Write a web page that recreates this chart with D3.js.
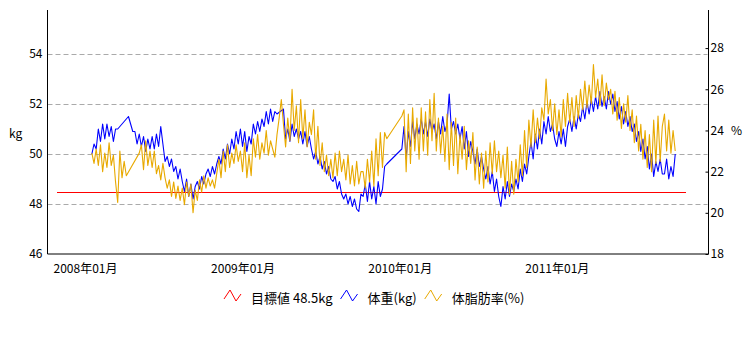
<!DOCTYPE html>
<html>
<head>
<meta charset="utf-8">
<script src="https://cdn.jsdelivr.net/npm/d3@7"></script>
<style>
  html, body { margin: 0; padding: 0; background: #fff; }
  svg { display: block; }
  text { font-family: "Noto Sans CJK JP", "DejaVu Sans", sans-serif; font-size: 12px; fill: #000; }
</style>
</head>
<body>
<svg id="chart" width="750" height="350"></svg>
<script>
// ---- data ----
const startDate = "2008-03-22";
const stepDays = 5;

const weight = [
  50.0, 50.4, 50.2, 51.0, 50.5, 51.2, 50.6, 51.2, 50.7, 51.1, 50.5, 51.0, 51.0, null,
  null, null, null, 51.5, 51.2, 50.9, 50.9, 50.4, 50.8, 50.3, 50.7, 50.1, 50.6, 50.2,
  50.7, 50.2, 50.8, 50.3, 51.1, 50.4, 49.7, 49.9, 49.5, 49.8, 49.3, 49.5, 49.0, 49.4,
  48.9, 48.5, 49.0, 48.3, 48.8, 48.2, 48.7, 48.9, 48.6, 49.1, 48.8, 49.2, 49.4, 49.1,
  49.5, 49.2, 49.6, 49.9, 49.6, 50.2, 49.8, 50.4, 50.0, 50.6, 50.2, 50.9, 50.4, 51.0,
  50.3, 50.9, 50.1, 50.7, 50.4, 51.2, 50.8, 51.3, 50.9, 51.4, 51.1, 51.7, 51.2, 51.8,
  51.3, 51.7, 51.6, null, null, 51.8, 50.6, 51.0, 50.5, 51.2, 50.7, 51.0, 50.6, 50.9,
  50.4, 50.9, 50.3, 50.7, 50.2, 49.8, 50.1, 49.6, 49.9, 49.4, 49.7, 49.2, 49.5, 49.0,
  48.9, 49.1, 48.6, 48.9, 48.4, 48.2, 48.4, 48.0, 48.3, 47.9, 48.2, 47.8, 47.7, 48.4,
  48.3, 48.8, 48.1, 48.9, 48.2, 48.7, 48.0, 48.9, 48.3, 48.6, 49.5, 49.6, null, null,
  null, null, null, null, 50.2, 51.1, 49.8, 50.9, 50.3, 51.3, 50.6, 51.2, 50.8, 51.4,
  50.8, 51.3, 50.7, 51.4, 50.9, 51.2, 50.6, 51.3, 50.8, 51.5, 50.9, 51.2, 52.4, 51.0,
  51.3, 50.8, 51.2, 50.6, 51.1, 50.2, 50.9, 49.9, 50.5, 50.1, 49.6, 50.2, 49.5, 49.9,
  49.4, 49.0, 49.5, 48.8, 49.3, 48.5, 49.0, 48.3, 47.9, 48.7, 48.2, 48.9, 48.3, 48.8,
  48.5, 49.0, 48.6, 49.4, 48.9, 49.6, 49.2, 49.9, 50.5, 49.8, 50.8, 50.2, 51.0, 50.4,
  51.3, 50.8, 51.5, 50.9, 51.2, 50.6, 50.3, 50.9, 50.4, 51.0, 50.3, 51.1, 51.4, 50.9,
  51.5, 51.0, 51.6, 51.3, 51.9, 51.4, 52.1, 51.6, 52.2, 51.7, 52.3, 51.8, 52.5, 51.9,
  52.3, 51.8, 52.5, 52.0, 52.4, 51.7, 52.1, 51.4, 51.9, 51.2, 51.7, 51.1, 51.5, 50.9,
  51.2, 50.5, 50.9, 50.1, 50.6, 49.8, 50.3, 49.4, 50.0, 49.1, 49.7, 49.3, 49.8, 49.2,
  49.2, 49.8, 49.0, 49.5, 49.1, 50.0
];

const bodyFat = [
  22.9, 22.4, 23.1, 22.3, 23.3, 22.0, 22.9, 22.2, 23.4, 22.3, 22.8, 21.5, 20.5, 23.0,
  21.7, 22.5, 21.8, null, null, null, null, null, 22.9, 23.3, 22.1, 23.5, 22.3, 23.0,
  22.2, 23.0, 21.9, 22.3, 21.6, 22.4, 21.7, 21.2, 21.6, 20.8, 21.5, 20.7, 21.3, 20.6,
  21.2, 20.4, 21.5, 20.8, 21.4, 20.0, 21.1, 20.6, 21.6, 21.0, 21.8, 21.2, 21.7, 21.3,
  21.6, 21.2, 21.9, 22.6, 21.7, 23.0, 22.0, 23.3, 22.2, 22.9, 22.4, 23.3, 22.5, 23.0,
  22.0, 23.4, 21.7, 22.8, 21.8, 23.6, 22.7, 23.8, 22.6, 23.4, 22.9, 24.0, 22.8, 23.5,
  23.1, 22.7, 23.8, 24.6, 25.5, 24.3, 23.2, 24.6, 23.5, 26.0, 24.0, 25.2, 23.4, 25.5,
  23.6, 25.0, 23.2, 24.4, 23.8, 25.0, 22.6, 24.2, 22.3, 23.4, 22.0, 22.8, 21.8, 22.6,
  21.7, 22.9, 21.8, 23.0, 22.0, 22.6, 21.6, 22.8, 21.4, 22.3, 21.3, 22.5, 21.4, 22.0,
  22.0, 21.2, 22.6, 21.5, 23.0, 21.3, 23.6, 21.8, 23.9, 22.2, 23.9, 23.6, null, null,
  null, null, null, null, 24.7, 25.0, 22.0, 24.8, 22.4, 25.1, 23.0, 24.6, 22.6, 25.1,
  23.0, 24.9, 22.8, 25.5, 23.5, 25.8, 23.0, 24.6, 22.9, 24.2, 22.5, 24.8, 22.1, 24.4,
  22.3, 24.6, 21.9, 23.8, 22.6, 24.2, 22.1, 23.5, 22.4, 23.9, 21.6, 23.2, 21.4, 22.9,
  21.2, 23.0, 21.5, 23.4, 21.9, 23.5, 22.0, 23.0, 21.7, 22.8, 21.2, 23.2, 20.9, 22.5,
  20.9, 22.6, 21.5, 23.3, 21.8, 24.0, 22.2, 24.5, 23.2, 25.0, 23.4, 24.6, 23.6, 25.1,
  24.5, 26.5, 24.8, 25.5, 24.0, 25.3, 23.8, 25.0, 23.7, 25.5, 24.2, 25.8, 24.4, 25.6,
  24.2, 25.7, 24.6, 26.0, 25.0, 26.4, 25.1, 26.2, 25.3, 27.2, 25.6, 26.5, 25.2, 26.7,
  25.2, 26.3, 25.5, 26.0, 24.8, 25.9, 24.5, 25.6, 24.1, 25.3, 24.4, 25.7, 24.0, 25.0,
  23.4, 24.7, 23.0, 24.3, 22.6, 24.0, 22.2, 23.8, 22.0, 24.5, 22.4, 24.7, 22.5, 24.2,
  24.8, 23.0, 24.5, 22.9, 24.0, 23.0
];

const targetDates = ["2008-01-01", "2012-01-01"];
const targetValues = [48.5, 48.5];

const xTickDates = ["2008-01-01", "2009-01-01", "2010-01-01", "2011-01-01"];
const xTickLabels = ["2008年01月", "2009年01月", "2010年01月", "2011年01月"];
const leftTicks = [46, 48, 50, 52, 54];
const rightTicks = [18, 20, 22, 24, 26, 28];
const leftDomain = [46, 55.76];
const rightDomain = [18, 29.85];
const xDomain = ["2008-01-01", "2012-01-01"];

const legendLabels = ["目標値 48.5kg", "体重(kg)", "体脂肪率(%)"];
const seriesColors = ["#ff0000", "#0000ff", "#e8a900"];

// ---- chart ----
const parse = d3.timeParse("%Y-%m-%d");
const svg = d3.select("#chart");

const plotLeft = 47.5, plotRight = 708.5, plotTop = 10, plotBottom = 254;

const x = d3.scaleTime().domain(xDomain.map(parse)).range([57, 686]);
const yL = d3.scaleLinear().domain(leftDomain).range([plotBottom, plotTop]);
const yR = d3.scaleLinear().domain(rightDomain).range([plotBottom, plotTop]);

const start = parse(startDate);
const dates = weight.map((_, i) => d3.timeDay.offset(start, i * stepDays));

// grid lines (from left axis ticks)
svg.append("g")
  .selectAll("line")
  .data(leftTicks.filter(v => v > 46))
  .join("line")
  .attr("x1", plotLeft).attr("x2", plotRight - 1)
  .attr("y1", d => Math.round(yL(d)) + 0.5).attr("y2", d => Math.round(yL(d)) + 0.5)
  .attr("stroke", "#aaaaaa").attr("stroke-width", 1)
  .attr("stroke-dasharray", "5,3");

// target line
const targetData = targetDates.map((d, i) => ({ date: parse(d), v: targetValues[i] }));
svg.append("path")
  .datum(targetData)
  .attr("fill", "none").attr("stroke", seriesColors[0]).attr("stroke-width", 1.2)
  .attr("d", d3.line().x(d => x(d.date)).y(d => Math.round(yL(d.v)) + 0.5));

// weight line (left axis)
const wData = dates.map((d, i) => ({ date: d, v: weight[i] })).filter(d => d.v != null);
svg.append("path")
  .datum(wData)
  .attr("fill", "none").attr("stroke", seriesColors[1]).attr("stroke-width", 1.1)
  .attr("stroke-linejoin", "round")
  .attr("d", d3.line().x(d => x(d.date)).y(d => yL(d.v)));

// body fat line (right axis)
const fData = dates.map((d, i) => ({ date: d, v: bodyFat[i] })).filter(d => d.v != null);
svg.append("path")
  .datum(fData)
  .attr("fill", "none").attr("stroke", seriesColors[2]).attr("stroke-width", 1.1)
  .attr("stroke-linejoin", "round")
  .attr("d", d3.line().x(d => x(d.date)).y(d => yR(d.v)));

// left axis
const leftAxis = d3.axisLeft(yL).tickValues(leftTicks).tickSize(0).tickPadding(5).tickFormat(d3.format("d"));
const gL = svg.append("g").attr("transform", `translate(${plotLeft},0)`).call(leftAxis);
gL.select(".domain").attr("stroke", "#000").attr("d", `M0,${plotTop}V${plotBottom}`);
gL.selectAll("text").style("font-size", "12px").attr("fill", "#000");

// right axis
const rightAxis = d3.axisRight(yR).tickValues(rightTicks).tickSizeInner(-3).tickSizeOuter(0).tickPadding(5).tickFormat(d3.format("d"));
const gR = svg.append("g").attr("transform", `translate(${plotRight},0)`).call(rightAxis);
gR.select(".domain").attr("stroke", "#000").attr("d", `M0,${plotTop}V${plotBottom}`);
gR.selectAll(".tick line").attr("stroke", "#000");
gR.selectAll("text").style("font-size", "12px").attr("fill", "#000").attr("x", 2);

// bottom axis
const bottomAxis = d3.axisBottom(x).tickValues(xTickDates.map(parse)).tickSize(0).tickPadding(10)
  .tickFormat((d, i) => xTickLabels[i]);
const gB = svg.append("g").attr("transform", `translate(0,${plotBottom})`).call(bottomAxis);
gB.select(".domain").attr("stroke", "#000").attr("d", `M${plotLeft},0H${plotRight}`);
gB.selectAll("text").attr("text-anchor", "start").attr("dx", -4).style("font-size", "12px").attr("fill", "#000");

// axis titles
svg.append("text").attr("x", 9).attr("y", 138).text("kg");
svg.append("text").attr("x", 731).attr("y", 135).text("%");

// legend
const legend = svg.append("g");
const iconPts = [[0, 9], [6, 0], [12, 11], [17, 4]];
let lx = 0;
legendLabels.forEach((label, i) => {
  const g = legend.append("g").attr("transform", `translate(${lx},0)`);
  g.append("path")
    .attr("d", d3.line()(iconPts))
    .attr("fill", "none").attr("stroke", seriesColors[i]).attr("stroke-width", 1);
  const t = g.append("text").attr("x", 27).attr("y", 12.5).text(label).style("font-size", "13px");
  lx += 27 + t.node().getComputedTextLength() + 8;
});
const legendWidth = lx - 8;
legend.attr("transform", `translate(${Math.round(374 - legendWidth / 2)},290)`);
</script>
</body>
</html>
